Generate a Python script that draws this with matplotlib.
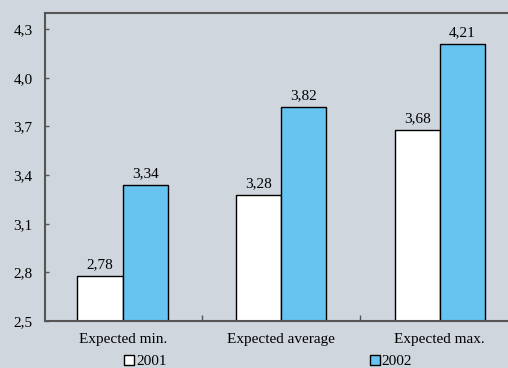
import numpy as np
import matplotlib
matplotlib.use("Agg")
import matplotlib.pyplot as plt
import matplotlib.patches as mpatches

categories = ["Expected min.", "Expected average", "Expected max."]
series_names = ["2001", "2002"]
values_2001 = [2.78, 3.28, 3.68]
values_2002 = [3.34, 3.82, 4.21]
y_ticks = [2.5, 2.8, 3.1, 3.4, 3.7, 4.0, 4.3]

bg = "#cfd6de"
blue = "#67c3ef"
spine_color = "#555555"

plt.rcParams["font.family"] = ["Liberation Serif", "DejaVu Serif"]
plt.rcParams["font.size"] = 11

fig = plt.figure(figsize=(5.08, 3.68), dpi=100, facecolor=bg)
# axes runs a bit past the right edge, as in the original
ax = fig.add_axes((45 / 508, 1 - 321 / 368, (519 - 45) / 508, (321 - 13) / 368))
ax.set_facecolor(bg)

x = np.arange(len(categories))
w = 0.285
ax.bar(x - w / 2, values_2001, w, color="white", edgecolor="black", linewidth=1)
ax.bar(x + w / 2, values_2002, w, color=blue, edgecolor="black", linewidth=1)

fmt = lambda v: ("%.2f" % v).replace(".", ",")
for xi, v in zip(x - w / 2, values_2001):
    ax.text(xi, v + 0.03, fmt(v), ha="center", va="bottom")
for xi, v in zip(x + w / 2, values_2002):
    ax.text(xi, v + 0.03, fmt(v), ha="center", va="bottom")

ax.set_ylim(2.5, 4.4)
ax.set_xlim(-0.49, 2.5)
ax.set_yticks(y_ticks)
ax.set_yticklabels([("%.1f" % t).replace(".", ",") for t in y_ticks])
ax.tick_params(axis="y", direction="in", length=3, width=1, color=spine_color, pad=9)

ax.set_xticks(x)
ax.set_xticklabels(categories)
ax.tick_params(axis="x", length=0, pad=9)
ax.set_xticks([0.5, 1.5], minor=True)
ax.tick_params(axis="x", which="minor", direction="in", length=4, width=1, color=spine_color)

for s in ax.spines.values():
    s.set_color(spine_color)
    s.set_linewidth(1.5)

handles = [mpatches.Patch(facecolor="white", edgecolor="black", linewidth=1),
           mpatches.Patch(facecolor=blue, edgecolor="black", linewidth=1)]
fig.legend(handles, series_names, loc="center", bbox_to_anchor=(268 / 508, 1 - 361.5 / 368),
           ncol=2, frameon=False, handlelength=0.65, handleheight=0.65, handletextpad=0.15,
           columnspacing=13.3, borderpad=0, borderaxespad=0)

fig.savefig("out.png", dpi=100, facecolor=bg)
